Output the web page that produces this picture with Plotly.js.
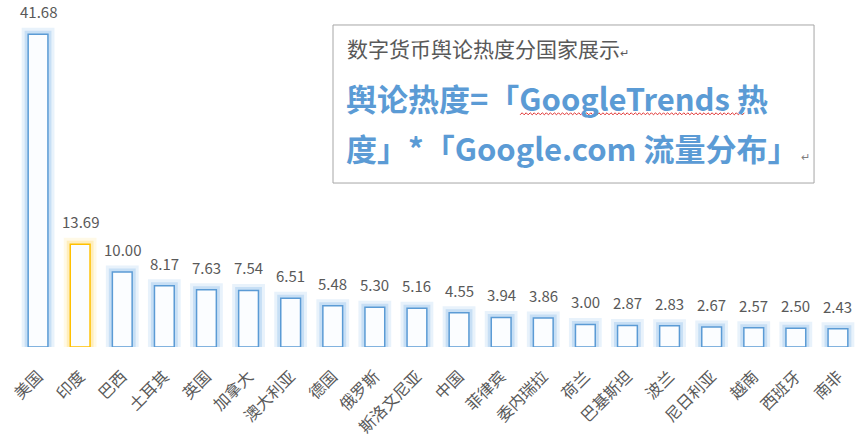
<!DOCTYPE html>
<html>
<head>
<meta charset="utf-8">
<script src="https://cdn.plot.ly/plotly-3.0.1.min.js"></script>
<style>
    html, body { margin: 0; padding: 0; background: #ffffff; }
    #chart { width: 865px; height: 445px; }
</style>
</head>
<body>
<div id="chart"></div>
<script>
// Country names and their public-opinion heat score.
const countries = ['美国', '印度', '巴西', '土耳其', '英国', '加拿大', '澳大利亚', '德国', '俄罗斯', '斯洛文尼亚',
    '中国', '菲律宾', '委内瑞拉', '荷兰', '巴基斯坦', '波兰', '尼日利亚', '越南', '西班牙', '南非'];
const heat = [41.68, 13.69, 10.00, 8.17, 7.63, 7.54, 6.51, 5.48, 5.30, 5.16,
    4.55, 3.94, 3.86, 3.00, 2.87, 2.83, 2.67, 2.57, 2.50, 2.43];
const highlighted = ['印度'];

const FONT = '"Microsoft YaHei", "Noto Sans CJK SC", "Noto Sans", sans-serif';
const GREY = '#595959';
const BLUE = '#5b9bd5';
const GOLD = '#ffc000';

const isHi = countries.map(c => highlighted.includes(c));
const edge = isHi.map(h => h ? GOLD : BLUE);
const glowOuter = isHi.map(h => h ? 'rgba(255,224,130,0.20)' : 'rgba(165,203,240,0.26)');
const glowInner = isHi.map(h => h ? 'rgba(255,224,130,0.42)' : 'rgba(165,203,240,0.50)');

const barWidth = 0.47;

// Soft glow is faked with two wide translucent outlines behind the bar.
const traces = [
    {
        x: countries, y: heat, type: 'bar', width: barWidth,
        marker: { color: glowOuter, line: { color: glowOuter, width: 13 } },
        hoverinfo: 'skip'
    },
    {
        x: countries, y: heat, type: 'bar', width: barWidth,
        marker: { color: glowInner, line: { color: glowInner, width: 7 } },
        hoverinfo: 'skip'
    },
    {
        x: countries, y: heat, type: 'bar', width: barWidth,
        marker: { color: '#fbfdff', line: { color: edge, width: 1.5 } },
        hoverinfo: 'skip'
    }
];

// Value labels sit a little higher above the bars than Plotly's outside text.
const valueLabels = countries.map((c, i) => ({
    x: c, y: heat[i], xref: 'x', yref: 'y',
    text: heat[i].toFixed(2), showarrow: false,
    yanchor: 'bottom', yshift: 10,
    font: { family: FONT, size: 15, color: GREY }
}));

// Red squiggle under "GoogleTrends" (spell-check mark in the source).
function squiggle(x0, x1, y, step, amp) {
    let d = 'M ' + x0 + ' ' + y;
    let up = true;
    for (let x = x0 + step; x <= x1; x += step) {
        d += ' L ' + x.toFixed(4) + ' ' + (y + (up ? amp : 0)).toFixed(4);
        up = !up;
    }
    return d;
}

const layout = {
    width: 865,
    height: 445,
    margin: { l: 17, r: 6, t: 10, b: 98 },
    paper_bgcolor: '#ffffff',
    plot_bgcolor: '#ffffff',
    barmode: 'overlay',
    showlegend: false,
    font: { family: FONT, color: GREY },
    xaxis: {
        type: 'category',
        range: [-0.5, 19.5],
        tickangle: -45,
        ticklabelstandoff: 16,
        tickfont: { family: FONT, size: 16, color: GREY },
        showgrid: false, zeroline: false, showline: false, ticks: '',
        fixedrange: true
    },
    yaxis: {
        range: [0, 44.9],
        visible: false,
        fixedrange: true
    },
    shapes: [
        {
            type: 'rect', xref: 'paper', yref: 'paper',
            x0: 0.3753, x1: 0.9466, y0: 0.4866, y1: 0.9555,
            line: { color: '#a6a6a6', width: 1 },
            fillcolor: '#ffffff'
        },
        {
            type: 'path', xref: 'paper', yref: 'paper',
            path: squiggle(0.5975, 0.8640, 0.689, 0.0024, 0.006),
            line: { color: '#e03030', width: 1 }
        }
    ],
    annotations: valueLabels.concat([
        {
            xref: 'paper', yref: 'paper', x: 0.3895, y: 0.887,
            xanchor: 'left', yanchor: 'middle', showarrow: false,
            text: '数字货币舆论热度分国家展示<span style="font-size:11px">↵</span>',
            font: { family: FONT, size: 21, color: GREY }
        },
        {
            xref: 'paper', yref: 'paper', x: 0.3885, y: 0.739,
            xanchor: 'left', yanchor: 'middle', showarrow: false,
            text: '<b>舆论热度=「GoogleTrends 热</b>',
            font: { family: FONT, size: 31, color: BLUE }
        },
        {
            xref: 'paper', yref: 'paper', x: 0.3885, y: 0.591,
            xanchor: 'left', yanchor: 'middle', showarrow: false,
            text: '<b>度」*「Google.com 流量分布」</b><span style="font-size:11px;color:#7f7f7f"> ↵</span>',
            font: { family: FONT, size: 31, color: BLUE }
        }
    ])
};

Plotly.newPlot(document.getElementById('chart'), traces, layout, { staticPlot: true, displayModeBar: false });
</script>
</body>
</html>
